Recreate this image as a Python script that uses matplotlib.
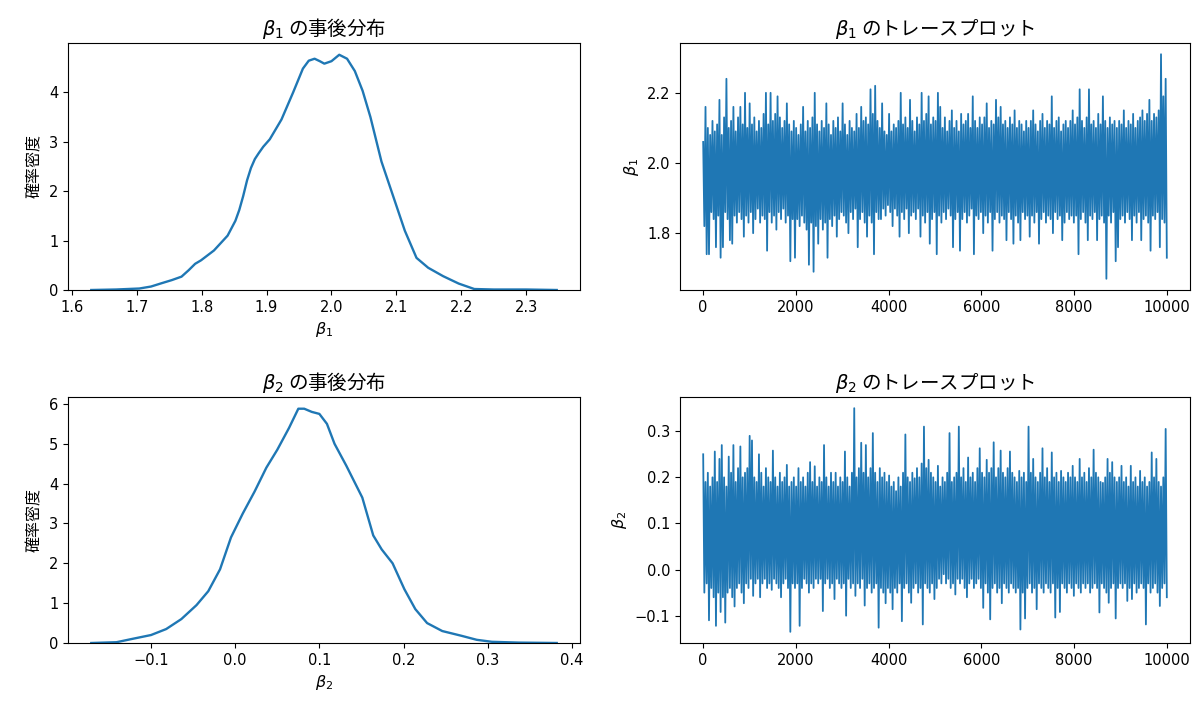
import numpy as np
import matplotlib
matplotlib.use("Agg")
import matplotlib.pyplot as plt

plt.rcParams['font.family'] = ['DejaVu Sans', 'Noto Sans CJK JP']
plt.rcParams['axes.unicode_minus'] = True
plt.rcParams['path.simplify'] = False

JP = ['Noto Sans CJK JP', 'DejaVu Sans']

# ---- KDE of beta1 ----
kde1_x = [1.630, 1.668, 1.704, 1.722, 1.739, 1.754, 1.769, 1.780, 1.790, 1.799, 1.819,
          1.840, 1.852, 1.858, 1.864, 1.870, 1.876, 1.882, 1.888, 1.895, 1.905, 1.923, 1.941, 1.956, 1.965,
          1.974, 1.982, 1.989, 2.000, 2.012, 2.024, 2.036, 2.048, 2.060, 2.077,
          2.095, 2.113, 2.131, 2.149, 2.172, 2.196, 2.220, 2.250, 2.300, 2.347]
kde1_y = [0.00, 0.01, 0.03, 0.07, 0.14, 0.20, 0.27, 0.40, 0.53, 0.60, 0.80,
          1.10, 1.40, 1.62, 1.90, 2.22, 2.47, 2.65, 2.77, 2.90, 3.05, 3.45, 4.00, 4.48, 4.64,
          4.68, 4.63, 4.58, 4.63, 4.76, 4.68, 4.43, 4.03, 3.50, 2.60,
          1.90, 1.20, 0.65, 0.45, 0.28, 0.13, 0.02, 0.01, 0.01, 0.00]

# ---- KDE of beta2 ----
kde2_x = [-0.171, -0.141, -0.123, -0.100, -0.082, -0.064, -0.046, -0.032, -0.018, -0.005,
          0.009, 0.023, 0.037, 0.050, 0.064, 0.075, 0.082, 0.091, 0.100, 0.109,
          0.118, 0.132, 0.151, 0.164, 0.174, 0.187, 0.201, 0.214, 0.228, 0.246,
          0.269, 0.287, 0.305, 0.337, 0.382]
kde2_y = [0.00, 0.02, 0.10, 0.20, 0.35, 0.60, 0.95, 1.30, 1.85, 2.65,
          3.25, 3.80, 4.40, 4.85, 5.40, 5.88, 5.88, 5.80, 5.75, 5.50,
          5.00, 4.45, 3.65, 2.70, 2.35, 2.00, 1.35, 0.85, 0.50, 0.30,
          0.18, 0.08, 0.03, 0.01, 0.00]

# ---- Trace of beta1: per 50-iteration block, high and low excursions ----
trace1_hi = [
    2.06, 2.16, 2.10, 2.08, 2.12, 2.09, 2.11, 2.18, 2.08, 2.13, 2.24, 2.10, 2.12, 2.16, 2.09, 2.13, 2.16, 2.11, 2.20, 2.10,
    2.17, 2.11, 2.13, 2.09, 2.12, 2.10, 2.14, 2.20, 2.11, 2.20, 2.12, 2.14, 2.19, 2.13, 2.10, 2.12, 2.17, 2.11, 2.09, 2.12,
    2.10, 2.08, 2.11, 2.16, 2.09, 2.12, 2.10, 2.13, 2.20, 2.11, 2.09, 2.12, 2.10, 2.17, 2.11, 2.08, 2.12, 2.10, 2.13, 2.09,
    2.17, 2.11, 2.08, 2.12, 2.10, 2.09, 2.14, 2.10, 2.16, 2.12, 2.13, 2.11, 2.21, 2.14, 2.22, 2.12, 2.10, 2.17, 2.09, 2.08,
    2.14, 2.09, 2.11, 2.10, 2.12, 2.20, 2.11, 2.13, 2.10, 2.18, 2.12, 2.09, 2.13, 2.11, 2.20, 2.12, 2.14, 2.19, 2.11, 2.13,
    2.12, 2.20, 2.16, 2.10, 2.13, 2.09, 2.12, 2.15, 2.10, 2.12, 2.09, 2.14, 2.11, 2.12, 2.14, 2.10, 2.19, 2.12, 2.10, 2.13,
    2.11, 2.13, 2.17, 2.10, 2.12, 2.11, 2.18, 2.13, 2.16, 2.11, 2.12, 2.10, 2.13, 2.11, 2.15, 2.10, 2.12, 2.11, 2.09, 2.12,
    2.10, 2.12, 2.15, 2.11, 2.09, 2.12, 2.14, 2.10, 2.12, 2.11, 2.19, 2.10, 2.12, 2.13, 2.09, 2.11, 2.12, 2.10, 2.12, 2.15,
    2.11, 2.13, 2.21, 2.12, 2.10, 2.13, 2.21, 2.11, 2.12, 2.10, 2.14, 2.11, 2.19, 2.12, 2.10, 2.13, 2.11, 2.12, 2.10, 2.12,
    2.11, 2.15, 2.10, 2.12, 2.11, 2.14, 2.10, 2.12, 2.13, 2.15, 2.12, 2.14, 2.18, 2.12, 2.14, 2.13, 2.15, 2.31, 2.19, 2.24]
trace1_lo = [
    1.82, 1.74, 1.74, 1.86, 1.84, 1.76, 1.85, 1.73, 1.76, 1.86, 1.84, 1.78, 1.77, 1.85, 1.83, 1.86, 1.84, 1.79, 1.85, 1.83,
    1.86, 1.80, 1.84, 1.87, 1.83, 1.85, 1.84, 1.75, 1.86, 1.83, 1.85, 1.81, 1.86, 1.84, 1.87, 1.83, 1.85, 1.72, 1.84, 1.73,
    1.84, 1.82, 1.85, 1.83, 1.81, 1.71, 1.83, 1.69, 1.82, 1.77, 1.84, 1.81, 1.83, 1.73, 1.84, 1.82, 1.85, 1.79, 1.84, 1.86,
    1.85, 1.83, 1.80, 1.86, 1.84, 1.87, 1.76, 1.84, 1.86, 1.83, 1.79, 1.85, 1.83, 1.74, 1.86, 1.84, 1.84, 1.87, 1.85, 1.88,
    1.86, 1.82, 1.87, 1.85, 1.79, 1.86, 1.84, 1.87, 1.80, 1.85, 1.86, 1.84, 1.87, 1.79, 1.85, 1.83, 1.86, 1.77, 1.84, 1.86,
    1.74, 1.85, 1.83, 1.86, 1.84, 1.87, 1.85, 1.76, 1.84, 1.86, 1.75, 1.84, 1.86, 1.83, 1.85, 1.87, 1.74, 1.85, 1.84, 1.86,
    1.80, 1.85, 1.83, 1.86, 1.75, 1.84, 1.86, 1.83, 1.85, 1.84, 1.78, 1.86, 1.84, 1.77, 1.85, 1.83, 1.78, 1.86, 1.84, 1.85,
    1.79, 1.85, 1.83, 1.86, 1.77, 1.84, 1.86, 1.83, 1.85, 1.84, 1.80, 1.86, 1.84, 1.85, 1.78, 1.83, 1.86, 1.84, 1.85, 1.83,
    1.85, 1.74, 1.84, 1.86, 1.83, 1.78, 1.85, 1.84, 1.86, 1.78, 1.84, 1.85, 1.83, 1.67, 1.85, 1.83, 1.86, 1.72, 1.76, 1.84,
    1.85, 1.83, 1.86, 1.84, 1.78, 1.85, 1.83, 1.86, 1.78, 1.84, 1.85, 1.83, 1.75, 1.85, 1.84, 1.86, 1.76, 1.84, 1.83, 1.73]

# ---- Trace of beta2: per 50-iteration block, high and low excursions ----
trace2_hi = [
    0.25, 0.19, 0.21, 0.18, 0.20, 0.256, 0.19, 0.24, 0.27, 0.20, 0.18, 0.245, 0.21, 0.27, 0.19, 0.22, 0.267, 0.20, 0.21, 0.22,
    0.29, 0.28, 0.20, 0.19, 0.25, 0.21, 0.18, 0.22, 0.20, 0.19, 0.258, 0.20, 0.18, 0.21, 0.19, 0.20, 0.227, 0.18, 0.19, 0.20,
    0.18, 0.22, 0.19, 0.20, 0.18, 0.21, 0.233, 0.19, 0.224, 0.18, 0.20, 0.19, 0.27, 0.20, 0.18, 0.21, 0.19, 0.21, 0.18, 0.20,
    0.19, 0.256, 0.20, 0.18, 0.21, 0.35, 0.20, 0.22, 0.275, 0.21, 0.27, 0.20, 0.22, 0.296, 0.21, 0.19, 0.22, 0.20, 0.21, 0.19,
    0.204, 0.18, 0.19, 0.17, 0.20, 0.18, 0.21, 0.293, 0.20, 0.19, 0.21, 0.198, 0.22, 0.20, 0.23, 0.31, 0.22, 0.238, 0.21, 0.20,
    0.19, 0.225, 0.18, 0.20, 0.19, 0.21, 0.296, 0.19, 0.20, 0.21, 0.31, 0.20, 0.22, 0.19, 0.243, 0.20, 0.21, 0.19, 0.22, 0.263,
    0.21, 0.20, 0.238, 0.21, 0.22, 0.276, 0.20, 0.22, 0.258, 0.21, 0.20, 0.22, 0.256, 0.21, 0.20, 0.19, 0.214, 0.20, 0.21, 0.19,
    0.31, 0.21, 0.24, 0.20, 0.19, 0.21, 0.263, 0.20, 0.22, 0.19, 0.254, 0.20, 0.21, 0.19, 0.214, 0.20, 0.19, 0.21, 0.20, 0.225,
    0.20, 0.19, 0.24, 0.20, 0.21, 0.19, 0.22, 0.20, 0.26, 0.21, 0.20, 0.19, 0.188, 0.20, 0.24, 0.21, 0.233, 0.20, 0.19, 0.20,
    0.225, 0.19, 0.20, 0.18, 0.225, 0.19, 0.20, 0.18, 0.214, 0.19, 0.20, 0.18, 0.19, 0.254, 0.20, 0.24, 0.19, 0.18, 0.20, 0.305]
trace2_lo = [
    -0.05, -0.03, -0.11, -0.04, -0.06, -0.122, -0.05, -0.092, -0.06, -0.115, -0.05, -0.04, -0.06, -0.08, -0.04, -0.03, -0.05, -0.073, -0.03, -0.04,
    -0.02, -0.057, -0.03, -0.02, -0.06, -0.03, -0.02, -0.04, -0.03, -0.044, -0.02, -0.03, -0.04, -0.06, -0.03, -0.02, -0.04, -0.135, -0.03, -0.04,
    -0.03, -0.122, -0.04, -0.02, -0.03, -0.05, -0.03, -0.04, -0.02, -0.03, -0.02, -0.09, -0.03, -0.02, -0.04, -0.03, -0.064, -0.02, -0.03, -0.04,
    -0.03, -0.10, -0.02, -0.04, -0.03, -0.057, -0.03, -0.04, -0.02, -0.078, -0.04, -0.03, -0.05, -0.04, -0.03, -0.126, -0.04, -0.05, -0.073, -0.04,
    -0.05, -0.086, -0.04, -0.05, -0.03, -0.112, -0.04, -0.03, -0.05, -0.072, -0.04, -0.03, -0.05, -0.04, -0.119, -0.03, -0.04, -0.05, -0.03, -0.064,
    -0.04, -0.02, -0.03, -0.01, -0.03, -0.02, -0.04, -0.03, -0.054, -0.02, -0.03, -0.02, -0.04, -0.06, -0.03, -0.02, -0.04, -0.03, -0.02, -0.04,
    -0.083, -0.03, -0.05, -0.108, -0.04, -0.03, -0.05, -0.04, -0.073, -0.03, -0.04, -0.05, -0.03, -0.04, -0.05, -0.04, -0.13, -0.05, -0.106, -0.04,
    -0.03, -0.05, -0.04, -0.086, -0.03, -0.04, -0.05, -0.03, -0.04, -0.05, -0.03, -0.104, -0.04, -0.092, -0.03, -0.04, -0.05, -0.03, -0.04, -0.057,
    -0.03, -0.04, -0.05, -0.03, -0.04, -0.03, -0.05, -0.04, -0.03, -0.04, -0.093, -0.03, -0.04, -0.05, -0.072, -0.04, -0.03, -0.106, -0.04, -0.03,
    -0.04, -0.03, -0.068, -0.04, -0.064, -0.03, -0.05, -0.04, -0.03, -0.04, -0.119, -0.03, -0.05, -0.04, -0.03, -0.05, -0.079, -0.04, -0.03, -0.06]

n_iter = 10000
color = '#1f77b4'


def interleave(hi, lo):
    vals = np.empty(2 * len(hi))
    vals[0::2] = hi
    vals[1::2] = lo
    return vals


fig = plt.figure(figsize=(12, 7.03), dpi=100)
L1, R1 = 68 / 1200, 580 / 1200
L2, R2 = 680 / 1200, 1190 / 1200
T1, B1 = 1 - 43 / 703, 1 - 290 / 703
T2, B2 = 1 - 397 / 703, 1 - 643 / 703

ax1 = fig.add_axes([L1, B1, R1 - L1, T1 - B1])
ax2 = fig.add_axes([L2, B1, R2 - L2, T1 - B1])
ax3 = fig.add_axes([L1, B2, R1 - L1, T2 - B2])
ax4 = fig.add_axes([L2, B2, R2 - L2, T2 - B2])

TITLE_FS = 14
LABEL_FS = 11.5
TICK_FS = 10.5

# KDE plots
for ax, xs, ys, name in [(ax1, kde1_x, kde1_y, r'$\beta_1$'), (ax3, kde2_x, kde2_y, r'$\beta_2$')]:
    ax.plot(xs, ys, color=color, lw=1.7)
    ax.set_ylim(bottom=0)
    ax.set_title(name + ' の事後分布', fontsize=TITLE_FS, family=JP)
    ax.set_xlabel(name, fontsize=LABEL_FS)
    ax.set_ylabel('確率密度', fontsize=LABEL_FS, family=JP)

# Trace plots
for ax, hi, lo, name in [(ax2, trace1_hi, trace1_lo, r'$\beta_1$'), (ax4, trace2_hi, trace2_lo, r'$\beta_2$')]:
    vals = interleave(hi, lo)
    it = np.linspace(0, n_iter - 1, len(vals))
    ax.plot(it, vals, color=color, lw=1.3)
    ax.set_title(name + ' のトレースプロット', fontsize=TITLE_FS, family=JP)
    ax.set_ylabel(name, fontsize=LABEL_FS)

ax2.set_yticks([1.8, 2.0, 2.2])
ax4.set_yticks([-0.1, 0.0, 0.1, 0.2, 0.3])

for ax in [ax1, ax2, ax3, ax4]:
    ax.tick_params(labelsize=TICK_FS)

fig.savefig('out.png', dpi=100)
